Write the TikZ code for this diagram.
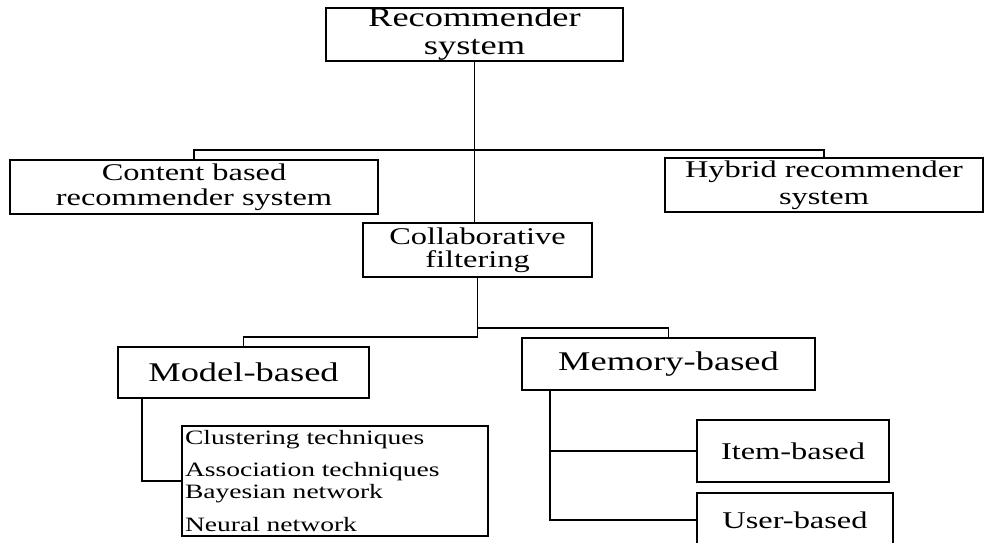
\documentclass[tikz,border=0pt]{standalone}
\usepackage{fontspec}
\setmainfont[FakeStretch=1.35]{Liberation Serif}
\usepackage{tikz}
\usetikzlibrary{positioning}

\begin{document}
\begin{tikzpicture}[
  x=1pt,y=-1pt,
  box/.style={draw,line width=1.8pt,inner sep=0pt,align=center,text=black},
  link/.style={line width=1.8pt}
]
\useasboundingbox (0,0) rectangle (985,542);

% top level
\node[box,minimum width=297,minimum height=53,font=\fontsize{27}{28}\selectfont] (rec) at (474.5,34.5) {Recommender\\system};

% second level
\node[box,minimum width=368,minimum height=54,font=\fontsize{24}{25}\selectfont] (cont) at (194,187) {Content based\\recommender system};
\node[box,minimum width=318,minimum height=54,font=\fontsize{24}{27}\selectfont] (hyb) at (824,185) {Hybrid recommender\\system};
\node[box,minimum width=229,minimum height=54,font=\fontsize{24}{23}\selectfont] (coll) at (477.5,250) {Collaborative\\filtering};

% collaborative filtering branches
\node[box,minimum width=251,minimum height=51,font=\fontsize{27}{28}\selectfont] (model) at (243.5,372.5) {Model-based};
\node[box,minimum width=293,minimum height=52,font=\fontsize{27}{28}\selectfont] (mem) at (668.5,364) {Memory-based};

% leaves
\node[box,minimum width=306,minimum height=110,text width=300,align=left,inner xsep=3,font=\fontsize{20.4}{22}\selectfont] (tech) at (335,481)
  {Clustering techniques\\[10pt]Association techniques\\Bayesian network\\[11pt]Neural network};
\node[box,minimum width=192,minimum height=62,font=\fontsize{24}{25}\selectfont] (item) at (793,451) {Item-based};
\node[box,minimum width=196,minimum height=54,font=\fontsize{24}{25}\selectfont] (user) at (795,520) {User-based};

\coordinate (split) at (474.5,150);

\draw[link] (rec.south) -- (rec.south |- coll.north);
\draw[link] (cont.north) |- (split) -| (hyb.north);
\draw[link] (coll.south) -- ++(0,59) -| (model.north);
\draw[link] (coll.south) -- ++(0,50) -| (mem.north);
\draw[link] (model.south west) ++(25,0) |- (tech.west);
\draw[link] (mem.south west) ++(29,0) |- (item.west);
\draw[link] (mem.south west) ++(29,0) |- (user.west);
\end{tikzpicture}
\end{document}
